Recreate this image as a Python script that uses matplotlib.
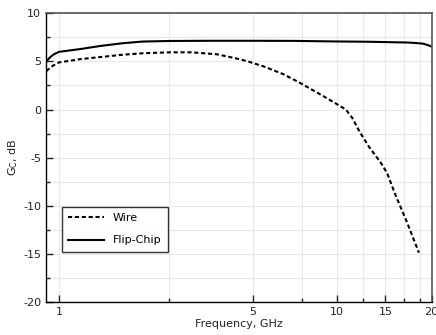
import matplotlib
matplotlib.use("Agg")
import matplotlib.pyplot as plt
import numpy as np

plt.rcParams["axes.unicode_minus"] = False

# Data
wire_f = [0.9, 0.95, 1.0, 1.2, 1.4, 1.7, 2.0, 2.5, 3.0, 3.7, 4.3, 4.8, 5.5, 6.4,
          7.3, 8.4, 9.2, 9.9, 10.8, 11.4, 12.1, 13.1, 14.4, 15.2, 16.3, 17.8, 19.8]
wire_g = [4.0, 4.55, 4.9, 5.25, 5.45, 5.7, 5.85, 5.95, 5.95, 5.75, 5.35, 5.0, 4.45, 3.7,
          2.85, 1.85, 1.2, 0.65, 0.0, -0.9, -2.3, -3.9, -5.5, -6.6, -8.9, -11.5, -14.9]
flip_f = [0.9, 0.93, 0.96, 1.0, 1.2, 1.4, 1.7, 2.0, 2.5, 3.5, 5.0, 7.0, 10.0, 13.0,
          16.0, 18.0, 19.3, 20.5, 21.3, 22.0]
flip_g = [5.0, 5.45, 5.75, 6.0, 6.3, 6.6, 6.9, 7.07, 7.13, 7.15, 7.15, 7.14, 7.08, 7.05,
          7.0, 6.97, 6.92, 6.85, 6.7, 6.55]

xtick_pos = [1, 5, 10, 15, 22]
xtick_labels = ["1", "5", "10", "15", "20"]
xminor_pos = [2.5, 7.5, 12.5, 17.5, 20]

fig = plt.figure(figsize=(4.36, 3.35), dpi=100)
ax = fig.add_axes([0.1055, 0.0994, 0.8845, 0.8606])

ax.plot(wire_f, wire_g, color="black", lw=1.5, linestyle=(0, (2.0, 1.3)), label="Wire")
ax.plot(flip_f, flip_g, color="black", lw=1.5, label="Flip-Chip")

ax.set_xscale("log")
ax.set_xlim(0.898, 22)
ax.set_ylim(-20, 10)
ax.set_xticks(xtick_pos)
ax.set_xticklabels(xtick_labels)
ax.set_xticks(xminor_pos, minor=True)
ax.set_xticklabels([], minor=True)
ax.set_yticks([10, 5, 0, -5, -10, -15, -20])
ax.set_yticks([7.5, 2.5, -2.5, -7.5, -12.5, -17.5], minor=True)

ax.grid(True, which="both", color="#e8e8e8", lw=0.8)
ax.set_axisbelow(True)

ax.tick_params(which="both", direction="in", top=False, right=False,
               labelsize=8, colors="#222222")
ax.tick_params(which="major", length=5, width=1)
ax.tick_params(which="minor", length=3, width=1)

for s in ["left", "bottom"]:
    ax.spines[s].set_color("black")
    ax.spines[s].set_linewidth(1.0)
for s in ["top", "right"]:
    ax.spines[s].set_color("#555555")
    ax.spines[s].set_linewidth(1.2)

ax.set_xlabel("Frequency, GHz", fontsize=8, color="#222222", labelpad=2)
ax.set_ylabel(r"G$_\mathregular{C}$, dB", fontsize=8, color="#222222", labelpad=2)

leg = ax.legend(loc="lower left", bbox_to_anchor=(0.041, 0.172), borderaxespad=0,
                fontsize=8, frameon=True, fancybox=False, edgecolor="black",
                handlelength=3.2, labelspacing=1.1, borderpad=0.6)
leg.get_frame().set_linewidth(1.0)

fig.savefig("out.png", dpi=100)
